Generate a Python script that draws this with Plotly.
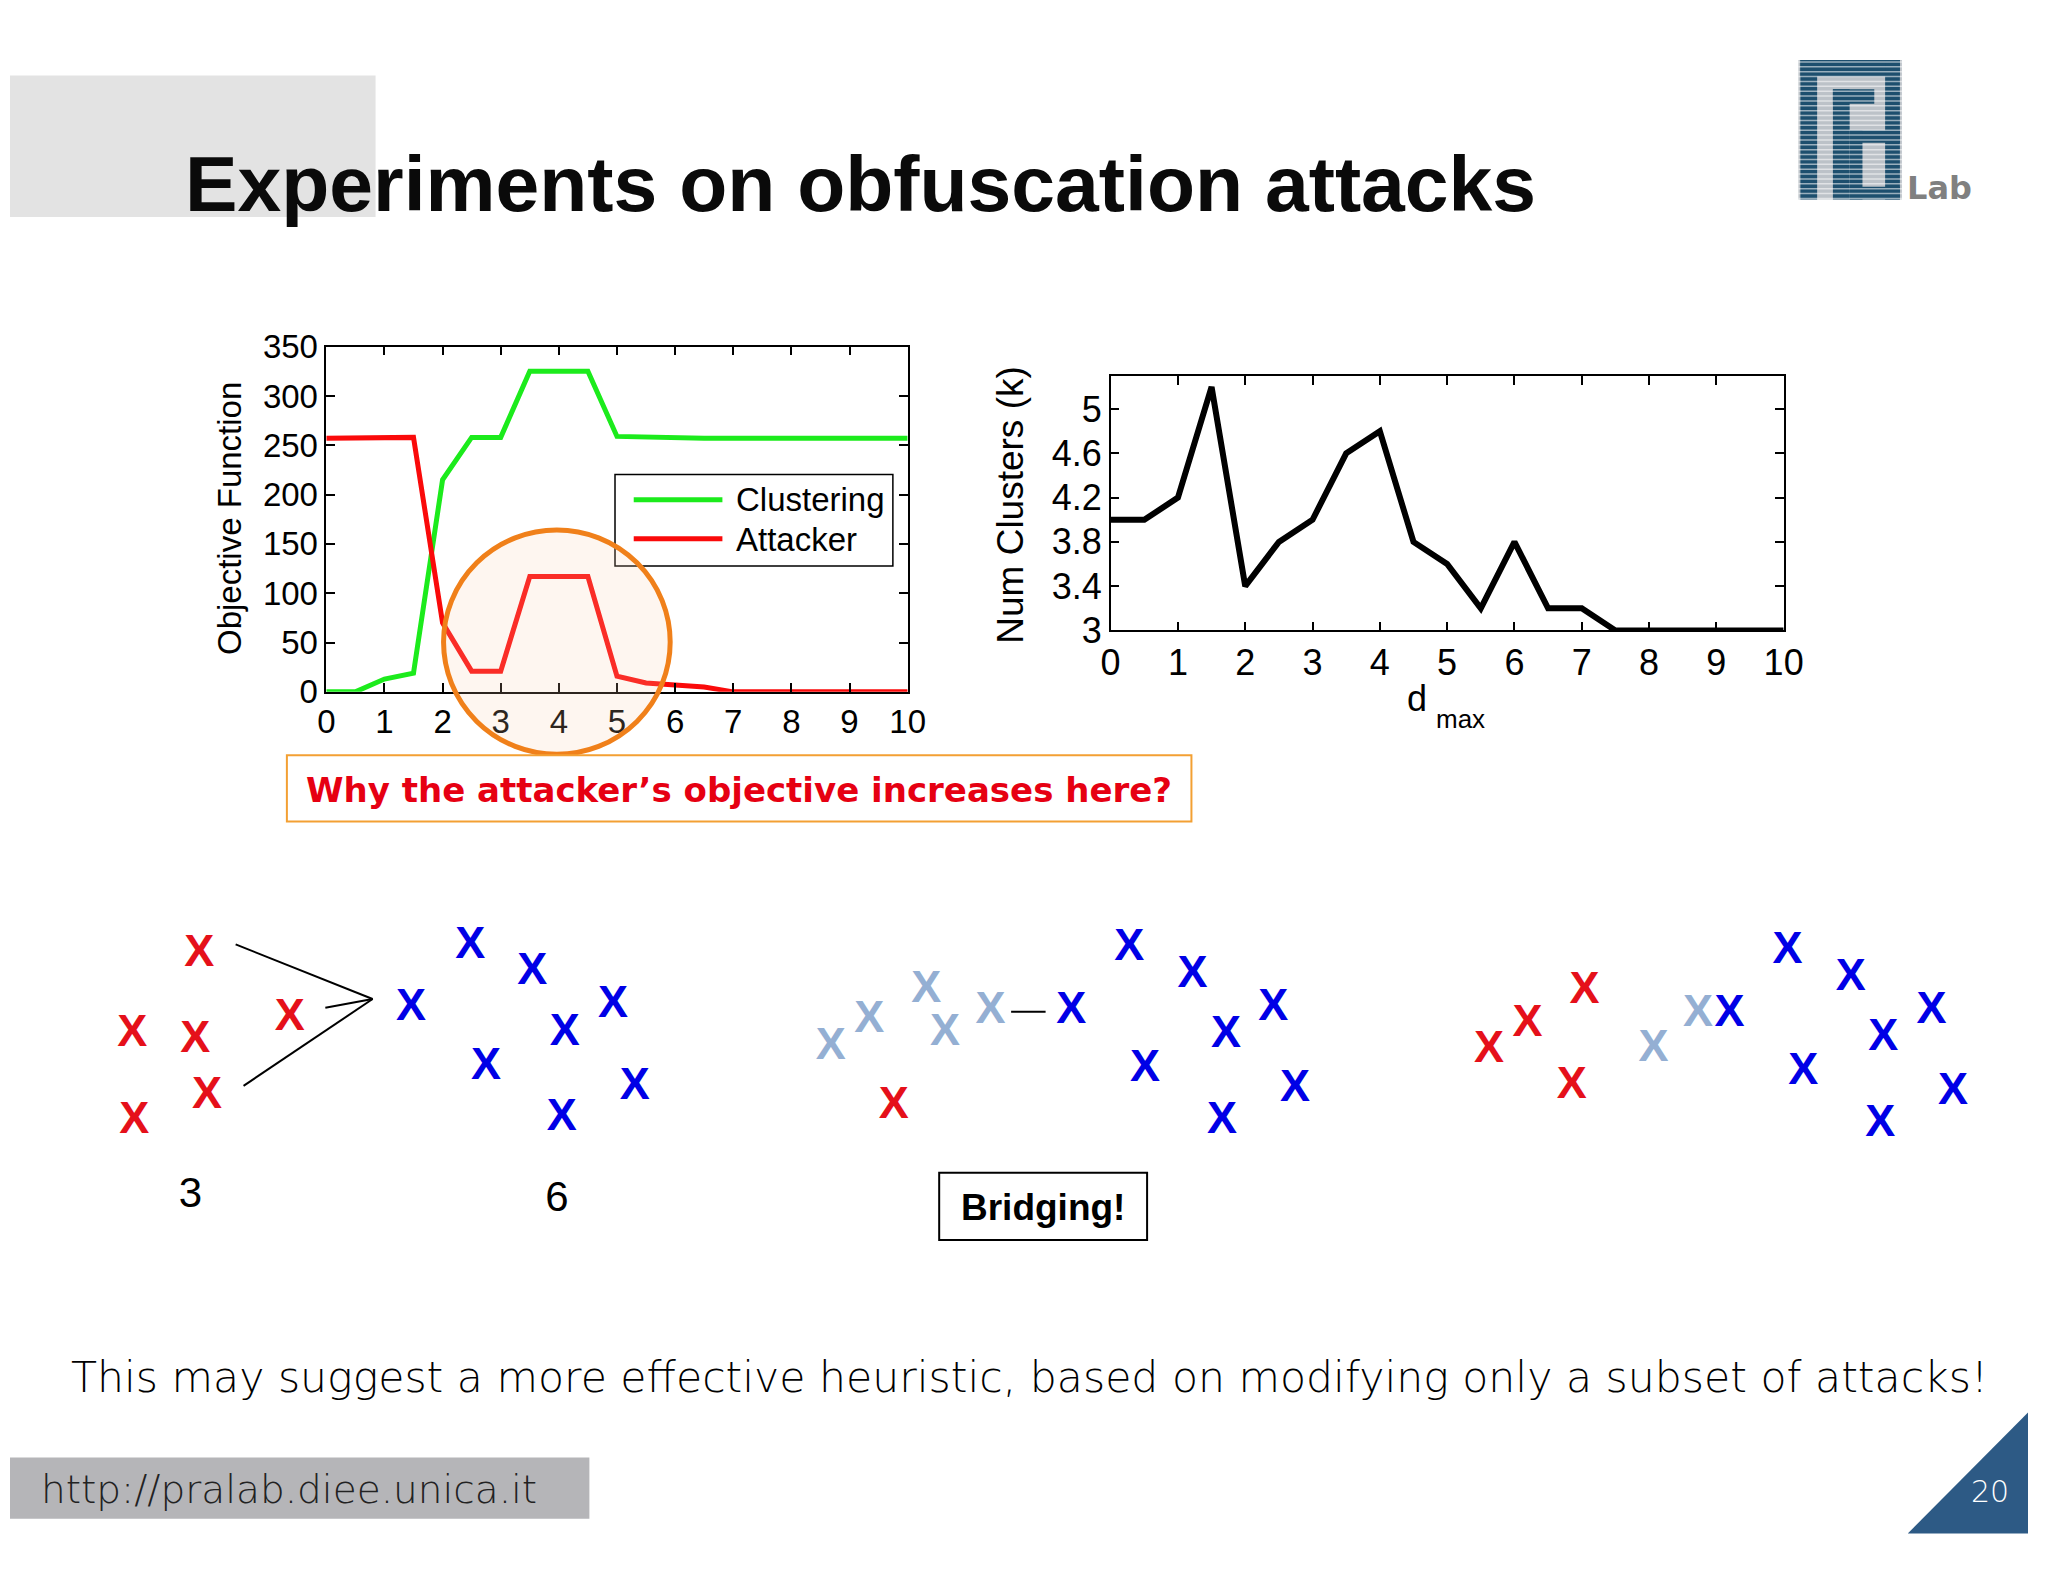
import plotly.graph_objects as go

W, H = 2048, 1572

# ---------------- data ----------------
d_max = [0, 0.5, 1, 1.5, 2, 2.5, 3, 3.5, 4, 4.5, 5, 5.5, 6, 6.5, 7, 7.5, 8, 8.5, 9, 9.5, 10]
clustering = [0, 0, 13, 19, 215, 258, 258, 325, 325, 325, 259, 258, 257, 257, 257, 257, 257, 257, 257, 257, 257]
attacker = [257, 257, 258, 258, 70, 21, 21, 117, 117, 117, 16, 9, 7, 5, 0, 0, 0, 0, 0, 0, 0]
num_clusters = [4, 4, 4.2, 5.2, 3.4, 3.8, 4.0, 4.6, 4.8, 3.8, 3.6, 3.2, 3.8, 3.2, 3.2, 3, 3, 3, 3, 3, 3]

obj_ticks = [0, 50, 100, 150, 200, 250, 300, 350]
x_ticks = [0, 1, 2, 3, 4, 5, 6, 7, 8, 9, 10]
k_ticks = [3, 3.4, 3.8, 4.2, 4.6, 5]
k_tick_labels = ["3", "3.4", "3.8", "4.2", "4.6", "5"]

# illustration sketch points (sketch coordinates)
red_x = [192, 124, 188, 284, 200, 126, 897, 1501, 1540, 1598, 1585]
red_y = [961, 1043, 1049, 1026, 1106, 1132, 1116, 1059, 1032, 999, 1096]
blue_x = [467, 530, 407, 612, 563, 483, 634, 560,
          1077, 1136, 1200, 1282, 1234, 1152, 1304, 1230,
          1745, 1804, 1868, 1950, 1901, 1820, 1972, 1898]
blue_y = [952, 979, 1016, 1013, 1042, 1076, 1097, 1129,
          1019, 954, 982, 1016, 1044, 1079, 1099, 1132,
          1022, 958, 985, 1019, 1047, 1082, 1102, 1135]
light_x = [833, 872, 930, 949, 995, 1668, 1713]
light_y = [1056, 1028, 997, 1042, 1019, 1058, 1022]
# connector segments (x0, y0, x1, y1)
segments = [(229, 950, 368, 1006), (237, 1095, 368, 1006), (320, 1015, 368, 1006), (1016, 1019, 1051, 1019)]
cluster_labels = ["3", "6"]
cluster_label_x = [183, 555]
cluster_label_y = [1208, 1213]

# ---------------- helpers ----------------
def px(x):
    return x / W


def py(y):
    return 1 - y / H


fig = go.Figure()

GREEN = "#1CEB1C"
RED = "#FA0A0A"

fig.add_trace(go.Scatter(x=d_max, y=clustering, mode="lines", line=dict(color=GREEN, width=5),
                         name="Clustering", xaxis="x", yaxis="y"))
fig.add_trace(go.Scatter(x=d_max, y=attacker, mode="lines", line=dict(color=RED, width=5),
                         name="Attacker", xaxis="x", yaxis="y"))
fig.add_trace(go.Scatter(x=d_max, y=num_clusters, mode="lines", line=dict(color="black", width=6),
                         name="k", xaxis="x2", yaxis="y2"))

# connector lines
sx, sy = [], []
for (x0, y0, x1, y1) in segments:
    sx += [x0, x1, None]
    sy += [y0, y1, None]
fig.add_trace(go.Scatter(x=sx, y=sy, mode="lines", line=dict(color="black", width=2),
                         xaxis="x3", yaxis="y3", hoverinfo="skip"))

XFONT = "Liberation Sans"
XSIZE = 45
for xs, ys, col in [(red_x, red_y, "#E5101A"), (blue_x, blue_y, "#0000E6"), (light_x, light_y, "#94AFD3")]:
    fig.add_trace(go.Scatter(x=xs, y=ys, mode="text", text=["<b>X</b>"] * len(xs), textposition="middle center",
                             textfont=dict(family=XFONT, size=XSIZE, color=col), cliponaxis=False,
                             xaxis="x3", yaxis="y3", hoverinfo="skip"))
fig.add_trace(go.Scatter(x=cluster_label_x, y=cluster_label_y, mode="text", text=cluster_labels,
                         textposition="middle center",
                         textfont=dict(family="Liberation Sans", size=42, color="black"), cliponaxis=False,
                         xaxis="x3", yaxis="y3", hoverinfo="skip"))

axis_common = dict(showgrid=False, zeroline=False, showline=True, linecolor="black", linewidth=1.5,
                   mirror="allticks", ticks="inside", ticklen=9, tickwidth=1.5, tickcolor="black",
                   fixedrange=True)

fig.update_layout(
    width=W, height=H, margin=dict(l=0, r=0, t=0, b=0),
    paper_bgcolor="white", plot_bgcolor="rgba(0,0,0,0)", showlegend=False,
    xaxis=dict(domain=[px(321), px(911)], range=[0, 10], tickvals=x_ticks, anchor="y",
               tickfont=dict(family="Liberation Sans", size=33, color="black"), **axis_common),
    yaxis=dict(domain=[py(691), py(337)], range=[0, 350], tickvals=obj_ticks, anchor="x",
               tickfont=dict(family="Liberation Sans", size=33, color="black"), **axis_common),
    xaxis2=dict(domain=[px(1117), px(1800)], range=[0, 10], tickvals=x_ticks, anchor="y2",
                tickfont=dict(family="Liberation Sans", size=36, color="black"), **axis_common),
    yaxis2=dict(domain=[py(628), py(367)], range=[3, 5.3], tickvals=k_ticks, ticktext=k_tick_labels,
                anchor="x2", tickfont=dict(family="Liberation Sans", size=36, color="black"), **axis_common),
    xaxis3=dict(domain=[0, 1], range=[0, W], visible=False, anchor="y3", fixedrange=True),
    yaxis3=dict(domain=[0, 1], range=[H, 0], visible=False, anchor="x3", fixedrange=True),
)

shapes = []
anns = []


def rect(x0, y0, x1, y1, fill=None, line=None, lw=0, layer="above"):
    shapes.append(dict(type="rect", xref="paper", yref="paper", x0=px(x0), x1=px(x1), y0=py(y1), y1=py(y0),
                       fillcolor=fill if fill else "rgba(0,0,0,0)",
                       line=dict(color=line if line else "rgba(0,0,0,0)", width=lw), layer=layer))


def hline(x0, x1, y, color, w):
    shapes.append(dict(type="line", xref="paper", yref="paper", x0=px(x0), x1=px(x1), y0=py(y), y1=py(y),
                       line=dict(color=color, width=w), layer="above"))


def text(x, y, s, size, color="black", family="Liberation Sans", xanchor="center", yanchor="middle",
         angle=0, weight=None):
    f = dict(family=family, size=size, color=color)
    if weight:
        f["weight"] = weight
    anns.append(dict(xref="paper", yref="paper", x=px(x), y=py(y), text=s, showarrow=False,
                     xanchor=xanchor, yanchor=yanchor, textangle=angle, font=f))


# grey header block
rect(0, 59, 371, 204, fill="#E3E3E3", layer="below")
text(176, 170, "<b>Experiments on obfuscation attacks</b>", 78.7, "#0A0A0A", "Liberation Sans", xanchor="left")

# logo
LOGO = "#1D4F6E"
rect(1815, 43, 1920, 186, fill="#BCC2C8")
for (a, b, c, d) in [(1817, 43, 1834, 186), (1817, 43, 1918, 60), (1903, 43, 1918, 186),
                     (1850, 73, 1867, 186), (1850, 73, 1892, 88), (1867, 115, 1918, 128),
                     (1867, 115, 1880, 186), (1867, 173, 1918, 186)]:
    rect(a, b, c, d, fill=LOGO)
yy = 45
while yy < 186:
    hline(1815, 1920, yy, "rgba(255,255,255,0.55)", 1.5)
    yy += 5
text(1923, 174, "<b>Lab</b>", 32, "#808080", "DejaVu Sans", xanchor="left")

# legend of left chart
rect(614, 468, 896, 562, fill="white", line="black", lw=1.5)
hline(633, 723, 494, GREEN, 5)
hline(633, 723, 534, RED, 5)
text(735, 494, "Clustering", 33, xanchor="left")
text(735, 535, "Attacker", 33, xanchor="left")

# axis titles
text(223, 513, "Objective Function", 33, angle=-90)
text(1016, 499, "Num Clusters (k)", 37, angle=-90)
text(1428, 698, "d", 36)
text(1472, 719, "max", 26)

# highlight circle
shapes.append(dict(type="circle", xref="paper", yref="paper", x0=px(440), x1=px(670), y0=py(755), y1=py(525),
                   fillcolor="rgba(250,205,170,0.18)", line=dict(color="#F0801A", width=5), layer="above"))

# question box
rect(281, 756, 1199, 824, fill="white", line="#F3A033", lw=2)
text(740, 792, "<b>Why the attacker\u2019s objective increases here?</b>", 34, "#E60012", "DejaVu Sans")

# bridging box
rect(943, 1184, 1154, 1253, fill="white", line="black", lw=2)
text(1048, 1220, "<b>Bridging!</b>", 37, "black", "Liberation Sans")

# bottom sentence
text(1035, 1394, "This may suggest a more effective heuristic, based on modifying only a subset of attacks!",
     42.6, "black", "DejaVu Sans", weight=200)

# footer
rect(0, 1476, 588, 1539, fill="#B5B5B8", layer="below")
text(29, 1509, "http://pralab.diee.unica.it", 39, "#222222", "DejaVu Sans", xanchor="left", weight=200)
shapes.append(dict(type="path", xref="paper", yref="paper",
                   path=f"M {px(2048)},{py(1430)} L {px(1926)},{py(1554)} L {px(2048)},{py(1554)} Z",
                   fillcolor="#2D5A85", line=dict(width=0), layer="above"))
text(2009, 1511, "20", 30, "white", "DejaVu Sans", weight=200)

fig.update_layout(shapes=shapes, annotations=anns)
POST = (
    "var d=document.getElementById('{plot_id}');"
    "document.documentElement.style.margin='0';document.documentElement.style.padding='0';"
    "document.body.style.margin='0';document.body.style.padding='0';document.body.style.overflow='hidden';"
    "d.style.position='fixed';d.style.left='0px';d.style.top='0px';"
)
fig.write_html("out.html", config={"displayModeBar": False}, post_script=POST)
